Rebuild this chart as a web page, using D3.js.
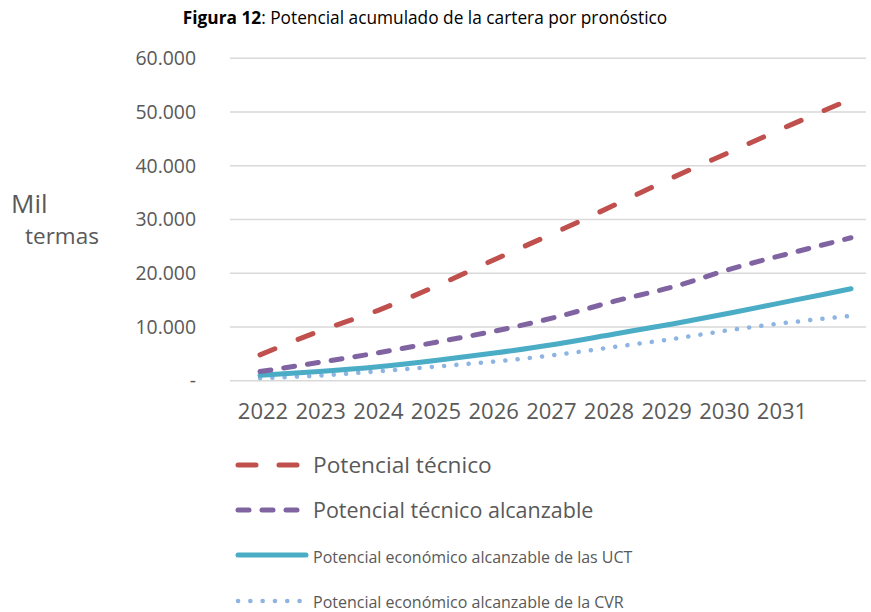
<!DOCTYPE html>
<html>
<head>
<meta charset="utf-8">
<script src="https://cdn.jsdelivr.net/npm/d3@7"></script>
<style>
  html, body { margin: 0; padding: 0; background: #fff; }
  svg { display: block; font-family: "Open Sans", "Noto Sans", sans-serif; }
</style>
</head>
<body>
<svg id="chart" width="871" height="612"></svg>
<script>
// Forecast years (data points) and the year labels printed under the axis
const years = [2022, 2023, 2024, 2025, 2026, 2027, 2028, 2029, 2030, 2031, 2032];
const yearLabels = ["2022", "2023", "2024", "2025", "2026", "2027", "2028", "2029", "2030", "2031"];

// Cumulative portfolio potential, thousand therms
const potencialTecnico = [4800, 9200, 13100, 17700, 22700, 27600, 32700, 37900, 42800, 47700, 52400];
const potencialTecnicoAlcanzable = [1700, 3400, 5200, 7200, 9300, 11800, 14800, 17500, 20900, 23800, 26600];
const potencialEconomicoUCT = [1000, 1700, 2600, 3800, 5200, 6800, 8700, 10600, 12700, 14900, 17100];
const potencialEconomicoCVR = [450, 950, 1750, 2650, 3600, 4800, 6300, 7800, 9500, 10900, 12050];

const yTicks = [0, 10000, 20000, 30000, 40000, 50000, 60000];

const seriesNames = [
  "Potencial técnico",
  "Potencial técnico alcanzable",
  "Potencial económico alcanzable de las UCT",
  "Potencial económico alcanzable de la CVR"
];

const series = [
  { name: seriesNames[0], values: potencialTecnico, color: "#C0504D", width: 5, dash: "16,25", legendDash: "18,23", font: 22.7 },
  { name: seriesNames[1], values: potencialTecnicoAlcanzable, color: "#8064A2", width: 5, dash: "11,13", legendDash: "11,13", font: 21.5 },
  { name: seriesNames[2], values: potencialEconomicoUCT, color: "#4BACC6", width: 5, dash: null, legendDash: null, font: 16 },
  { name: seriesNames[3], values: potencialEconomicoCVR, color: "#8DB4E2", width: 4.5, dash: "0.1,12.2", legendDash: "0.1,12.2", font: 16 }
];

const svg = d3.select("#chart");
const textColor = "#595959";

const plot = { left: 230, right: 866, top: 58.3, bottom: 380.7 };

const x = d3.scalePoint().domain(years).range([260, 851]);
const xLabel = d3.scalePoint().domain(yearLabels).range([263, 782]);
const y = d3.scaleLinear().domain([0, 60000]).range([plot.bottom, plot.top]);

// Title
const title = svg.append("text")
  .attr("x", 425).attr("y", 24)
  .attr("text-anchor", "middle")
  .attr("font-size", 17.3)
  .attr("fill", "#000");
title.append("tspan").attr("font-weight", "bold").text("Figura 12");
title.append("tspan").text(": Potencial acumulado de la cartera por pronóstico");

// Horizontal gridlines
svg.append("g")
  .selectAll("line")
  .data(yTicks)
  .join("line")
  .attr("x1", plot.left).attr("x2", plot.right)
  .attr("y1", d => y(d)).attr("y2", d => y(d))
  .attr("stroke", "#d9d9d9")
  .attr("stroke-width", 1.5);

// Y tick labels (thousands separator is a period, zero shown as a dash)
const fmt = d => d === 0 ? "-" : d3.format(",")(d).replace(/,/g, ".");
svg.append("g")
  .selectAll("text")
  .data(yTicks)
  .join("text")
  .attr("x", 196)
  .attr("y", d => y(d))
  .attr("dy", "0.35em")
  .attr("text-anchor", "end")
  .attr("font-size", 19.4)
  .attr("fill", textColor)
  .text(fmt);

// Y axis title
svg.append("text").attr("x", 11).attr("y", 213)
  .attr("font-size", 26).attr("fill", textColor).text("Mil");
svg.append("text").attr("x", 25).attr("y", 244)
  .attr("font-size", 22.5).attr("fill", textColor).text("termas");

// X labels
svg.append("g")
  .selectAll("text")
  .data(yearLabels)
  .join("text")
  .attr("x", d => xLabel(d))
  .attr("y", 419)
  .attr("text-anchor", "middle")
  .attr("font-size", 22)
  .attr("fill", textColor)
  .text(d => d);

// Lines
const line = d3.line()
  .x((d, i) => x(years[i]))
  .y(d => y(d))
  .curve(d3.curveMonotoneX);

const drawOrder = [3, 2, 1, 0];
svg.append("g")
  .selectAll("path")
  .data(drawOrder.map(i => series[i]))
  .join("path")
  .attr("d", s => line(s.values))
  .attr("fill", "none")
  .attr("stroke", s => s.color)
  .attr("stroke-width", s => s.width)
  .attr("stroke-linecap", "round")
  .attr("stroke-linejoin", "round")
  .attr("stroke-dasharray", s => s.dash);

// Legend
const legendRows = [465, 510, 555, 601];
const legendBaselines = [473, 518, 562.5, 608];
const legend = svg.append("g");
series.forEach((s, i) => {
  legend.append("line")
    .attr("x1", 238)
    .attr("x2", s.dash === null ? 306 : 300)
    .attr("y1", legendRows[i]).attr("y2", legendRows[i])
    .attr("stroke", s.color)
    .attr("stroke-width", s.width)
    .attr("stroke-linecap", "round")
    .attr("stroke-dasharray", s.legendDash);
  legend.append("text")
    .attr("x", 313)
    .attr("y", legendBaselines[i])
    .attr("font-size", s.font)
    .attr("fill", textColor)
    .text(s.name);
});
</script>
</body>
</html>
